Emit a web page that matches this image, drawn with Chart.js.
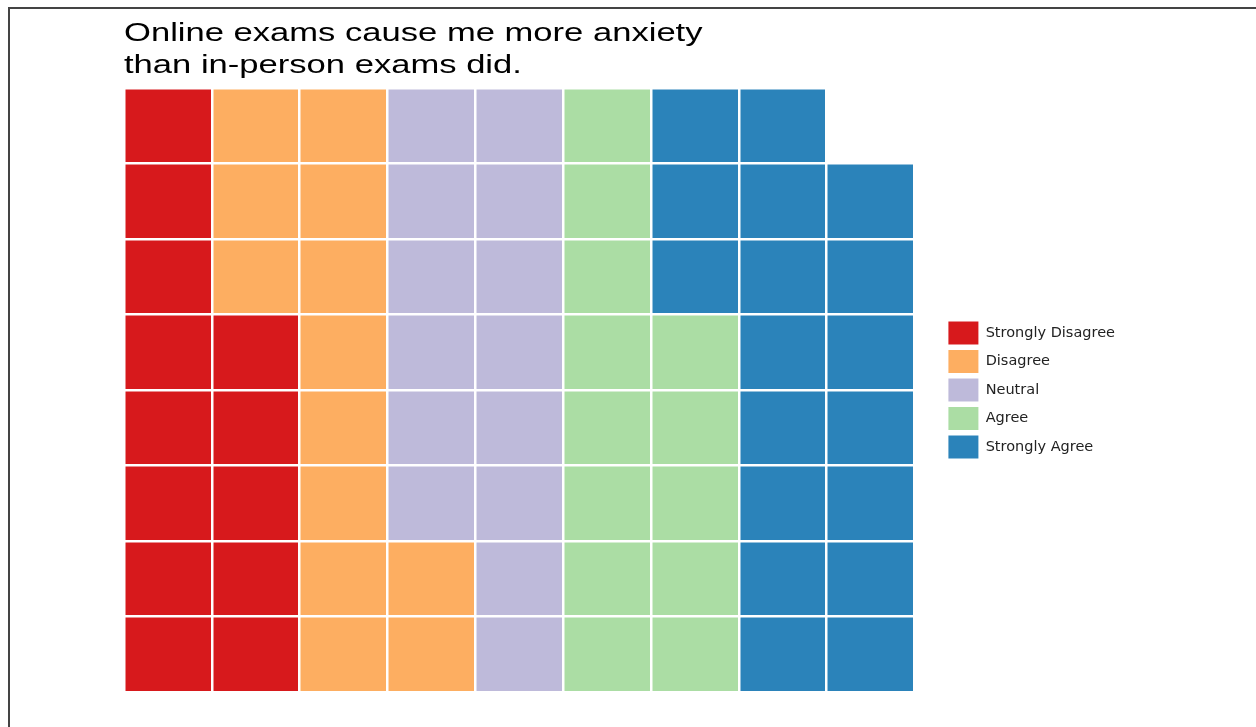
<!DOCTYPE html>
<html>
<head>
<meta charset="utf-8">
<title>Online exams waffle</title>
<script src="https://cdn.jsdelivr.net/npm/chart.js@4.4.0/dist/chart.umd.min.js"></script>
<style>
  html, body { margin: 0; padding: 0; background: #fff; overflow: hidden; }
  .frame {
    position: absolute; left: 8px; top: 7px; width: 1260px; height: 730px;
    border-left: 2px solid #444; border-top: 2px solid #444;
  }
  .chart-box { position: absolute; left: 0; top: 0; width: 1256px; height: 727px; }
</style>
</head>
<body>
<div class="frame"></div>
<div class="chart-box"><canvas id="waffle"></canvas></div>
<script>
// waffle columns (9 wide, 8 tall), filled bottom-up column by column
const columns = ["1", "2", "3", "4", "5", "6", "7", "8", "9"];
const categories = ["Strongly Disagree", "Disagree", "Neutral", "Agree", "Strongly Agree"];
const titleLines = ["Online exams cause me more anxiety", "than in-person exams did."];

// squares of each answer in each column
const stronglyDisagree = [8, 5, 0, 0, 0, 0, 0, 0, 0];
const disagree         = [0, 3, 8, 2, 0, 0, 0, 0, 0];
const neutral          = [0, 0, 0, 6, 8, 0, 0, 0, 0];
const agree            = [0, 0, 0, 0, 0, 8, 5, 0, 0];
const stronglyAgree    = [0, 0, 0, 0, 0, 0, 3, 8, 7];
const rowTicks = [0, 1, 2, 3, 4, 5, 6, 7, 8];

const colors = ["#d7191c", "#fdae61", "#bebada", "#abdda4", "#2b83ba"];
const series = [stronglyDisagree, disagree, neutral, agree, stronglyAgree];

// title is drawn a bit wider than the font, like the original export
const stretchedTitle = {
  id: "stretchedTitle",
  afterDraw(chart) {
    const ctx = chart.ctx;
    ctx.save();
    ctx.font = '26px "Liberation Sans", Arial, sans-serif';
    ctx.fillStyle = "#000";
    ctx.textBaseline = "alphabetic";
    titleLines.forEach((line, i) => {
      ctx.save();
      ctx.translate(chart.chartArea.left, 41 + i * 32);
      ctx.scale(1.33, 1);
      ctx.fillText(line, 0, 0);
      ctx.restore();
    });
    ctx.restore();
  }
};

const ctx = document.getElementById("waffle").getContext("2d");
new Chart(ctx, {
  type: "bar",
  data: {
    labels: columns,
    datasets: categories.map((name, i) => ({
      label: name,
      data: series[i],
      backgroundColor: colors[i],
      borderWidth: 0,
      barPercentage: 1,
      categoryPercentage: 1
    }))
  },
  options: {
    responsive: true,
    maintainAspectRatio: false,
    animation: false,
    layout: {
      padding: { left: 124, top: 88, right: 131, bottom: 35 }
    },
    scales: {
      x: {
        stacked: true,
        offset: true,
        ticks: { display: false },
        border: { display: false },
        // white lines on top of the bars split them into squares
        grid: { color: "#fff", lineWidth: 2.5, offset: true, drawTicks: false, z: 1 },
        afterFit: (scale) => { scale.height = 0; }
      },
      y: {
        stacked: true,
        position: "right",
        min: 0,
        max: 8,
        afterBuildTicks: (scale) => { scale.ticks = rowTicks.map(v => ({ value: v })); },
        ticks: { display: false },
        border: { display: false },
        grid: { color: "#fff", lineWidth: 2.5, drawTicks: false, z: 1 },
        afterFit: (scale) => { scale.width = 28.5; }
      }
    },
    plugins: {
      title: { display: false },
      tooltip: { enabled: false },
      legend: {
        position: "right",
        labels: {
          boxWidth: 30,
          boxHeight: 23,
          padding: 5.5,
          color: "#222",
          font: { family: '"DejaVu Sans", sans-serif', size: 14.5 }
        }
      }
    }
  },
  plugins: [stretchedTitle]
});
</script>
</body>
</html>
